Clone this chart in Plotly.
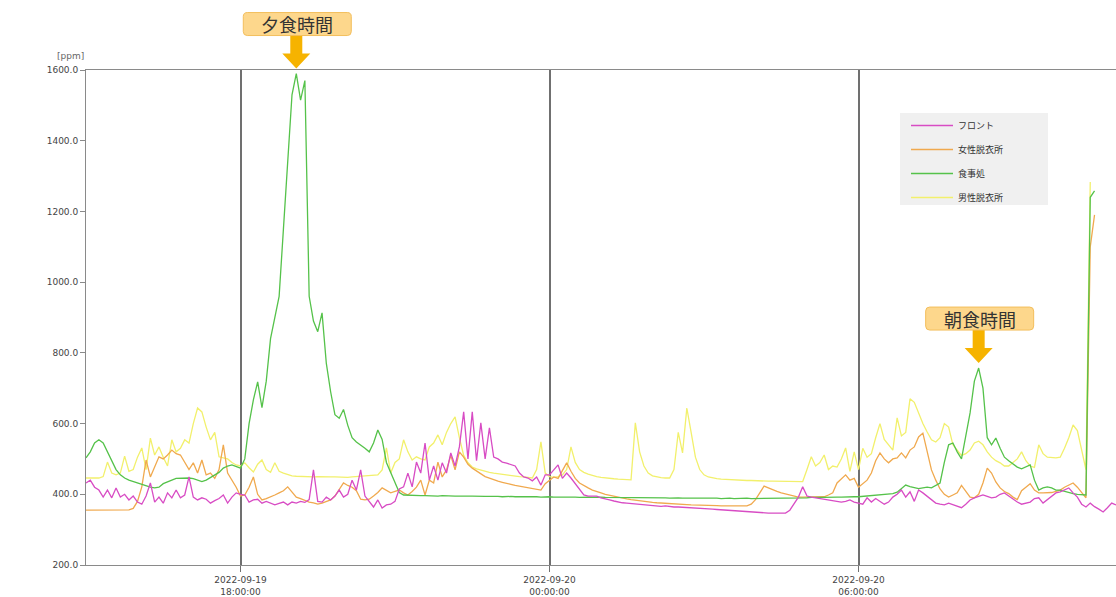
import pandas as pd
import plotly.graph_objects as go

# ---------------- data (5-minute readings, 2022-09-19 15:00 -> 2022-09-20 11:00) ----------------
times = pd.date_range("2022-09-19 15:00", "2022-09-20 11:00", freq="5min")

series_names = ["フロント", "女性脱衣所", "食事処", "男性脱衣所"]
series_colors = ["#d84cc4", "#f0a94e", "#55c24a", "#f2f06c"]

front = [
    432, 440, 420, 412, 392, 412, 390, 418, 392, 400, 384, 395,   # 15h
    378, 372, 395, 432, 378, 392, 375, 404, 390, 412, 390, 398,   # 16h
    449, 392, 384, 390, 386, 375, 382, 388, 398, 375, 392, 404,   # 17h
    400, 398, 378, 384, 386, 375, 380, 376, 370, 374, 378, 370,   # 18h
    378, 375, 380, 377, 385, 469, 380, 378, 392, 384, 395, 412,   # 19h
    392, 400, 440, 412, 469, 395, 380, 364, 384, 361, 370, 372,   # 20h
    380, 415, 421, 460, 421, 491, 460, 545, 440, 480, 440, 489,   # 21h
    460, 517, 480, 534, 633, 500, 633, 495, 602, 500, 588, 505,   # 22h
    500, 491, 488, 483, 480, 460, 449, 446, 438, 449, 426, 455,   # 23h
    455, 469, 483, 445, 460, 446, 430, 415, 398, 395, 394, 395,   # 00h
    390, 386, 384, 381, 378, 376, 375, 374, 372, 370, 370, 369,   # 01h
    368, 367, 366, 367, 365, 364, 364, 363, 362, 361, 361, 360,   # 02h
    359, 358, 358, 357, 356, 355, 355, 354, 353, 352, 351, 350,   # 03h
    349, 349, 348, 347, 347, 347, 346, 347, 355, 375, 392, 421,   # 04h
    395, 392, 390, 388, 386, 384, 384, 381, 378, 380, 384, 378,   # 05h
    375, 372, 390, 378, 388, 380, 372, 378, 392, 400, 412, 392,   # 06h
    407, 380, 412, 404, 395, 384, 375, 372, 370, 375, 370, 366,   # 07h
    362, 372, 384, 390, 395, 398, 394, 390, 392, 400, 404, 395,   # 08h
    386, 378, 372, 375, 378, 388, 390, 375, 384, 395, 404, 407,   # 09h
    412, 418, 404, 392, 372, 364, 375, 365, 358, 350, 362, 375,   # 10h
    370,
]

women = [
    355, 355, 355, 355, 355, 355, 355, 355, 356, 356, 356, 360,
    380, 421, 497, 449, 480, 506, 500, 511, 525, 515, 511, 490,
    470, 489, 460, 497, 455, 460, 445, 470, 540, 460, 440, 420,
    395, 398, 420, 449, 400, 384, 388, 392, 398, 404, 410, 421,
    405, 392, 388, 382, 378, 376, 372, 375, 380, 384, 395, 415,
    432, 425, 420, 410, 386, 384, 386, 395, 405, 418, 410, 404,
    408, 412, 404, 398, 408, 420, 440, 398, 440, 432, 491, 449,
    469, 510, 469, 520, 505, 485, 474, 466, 456, 450, 446, 441,
    437, 434, 430, 428, 425, 423, 420, 418, 416, 414, 412, 430,
    440, 449, 445, 465, 489, 465, 445, 432, 424, 418, 412, 407,
    404, 400, 397, 394, 391, 389, 387, 385, 383, 381, 380, 379,
    377, 376, 375, 374, 373, 372, 372, 371, 371, 370, 370, 369,
    369, 368, 368, 368, 367, 367, 367, 367, 366, 366, 367, 372,
    385, 404, 423, 418, 412, 408, 404, 401, 398, 395, 392, 392,
    392, 392, 391, 392, 393, 398, 404, 432, 445, 455, 440, 445,
    420, 430, 440, 460, 495, 517, 500, 489, 500, 503, 517, 503,
    525, 534, 562, 573, 517, 469, 440, 415, 400, 392, 398, 404,
    425, 410, 392, 390, 400, 432, 474, 460, 435, 418, 408, 402,
    392, 385, 410, 420, 430, 412, 404, 404, 404, 405, 408, 412,
    420, 426, 432, 420, 405, 390, 1100, 1190,
]

dining = [
    503, 520, 545, 554, 545, 520, 492, 470, 455, 446, 440, 436,
    430, 426, 423, 420, 418, 420, 430, 436, 440, 445, 446, 447,
    446, 444, 440, 436, 440, 448, 455, 462, 474, 480, 483, 478,
    474, 500, 600, 667, 718, 645, 720, 840, 900, 960, 1150, 1350,
    1530, 1590, 1515, 1570, 960, 890, 860, 913, 770, 690, 625, 615,
    640, 595, 560, 548, 540, 530, 520, 545, 582, 555, 490, 460,
    430, 405, 398, 397, 396, 397, 396, 396, 395, 396, 395, 396,
    395, 396, 395, 395, 394, 395, 395, 394, 395, 394, 394, 395,
    394, 393, 394, 394, 393, 394, 393, 393, 394, 393, 392, 393,
    393, 392, 393, 392, 392, 393, 392, 391, 392, 392, 391, 392,
    392, 391, 391, 392, 391, 391, 390, 391, 391, 390, 391, 390,
    390, 391, 390, 390, 389, 390, 390, 389, 390, 389, 389, 390,
    389, 389, 390, 389, 388, 389, 389, 388, 389, 388, 389, 388,
    388, 389, 388, 388, 389, 388, 389, 389, 390, 389, 390, 390,
    390, 391, 390, 391, 391, 392, 391, 392, 392, 393, 392, 393,
    393, 394, 394, 395, 396, 397, 398, 400, 402, 406, 415, 426,
    422, 418, 416, 418, 420, 418, 425, 432, 490, 540, 545, 520,
    500, 560, 630, 720, 757, 700, 560, 540, 559, 530, 505, 495,
    485, 477, 472, 478, 483, 440, 412, 418, 421, 418, 412, 412,
    408, 405, 402, 400, 399, 398, 1240, 1258,
]

men = [
    446, 446, 447, 446, 450, 491, 460, 455, 460, 508, 465, 470,
    505, 531, 470, 559, 511, 534, 505, 480, 554, 520, 530, 554,
    545, 600, 644, 633, 590, 554, 575, 506, 503, 500, 490, 483,
    480, 489, 475, 463, 485, 497, 470, 462, 489, 465, 460, 455,
    452, 451, 450, 450, 449, 449, 450, 449, 448, 449, 449, 448,
    449, 448, 449, 450, 449, 450, 451, 452, 455, 469, 531, 460,
    490, 500, 554, 520, 497, 506, 500, 497, 534, 545, 568, 540,
    575, 600, 619, 560, 510, 489, 477, 472, 468, 465, 462, 460,
    458, 456, 455, 453, 452, 450, 449, 447, 446, 470, 548, 460,
    450, 448, 450, 455, 470, 534, 490, 470, 462, 457, 453, 450,
    448, 446, 445, 444, 443, 442, 441, 441, 602, 520, 480, 460,
    452, 449, 447, 446, 446, 470, 575, 517, 644, 575, 505, 470,
    455, 449, 446, 444, 443, 442, 441, 441, 440, 440, 439, 439,
    438, 438, 438, 437, 437, 437, 437, 437, 436, 436, 436, 436,
    470, 506, 480, 490, 511, 470, 480, 477, 500, 531, 465, 520,
    470, 530, 505, 515, 560, 600, 555, 540, 525, 616, 565, 575,
    670, 660, 630, 600, 576, 554, 548, 560, 600, 590, 540, 525,
    510, 515, 525, 545, 550, 540, 520, 505, 495, 489, 480, 480,
    490, 500, 520, 495, 480, 476, 540, 515, 505, 503, 503, 505,
    530, 560, 596, 580, 520, 470, 1283,
]

y_ticks = [200, 400, 600, 800, 1000, 1200, 1400, 1600]
x_tick_times = ["2022-09-19 18:00:00", "2022-09-20 00:00:00", "2022-09-20 06:00:00"]
x_tick_text = ["2022-09-19<br>18:00:00", "2022-09-20<br>00:00:00", "2022-09-20<br>06:00:00"]
callout_texts = ["夕食時間", "朝食時間"]


def pad(vals):
    return list(vals) + [None] * (len(times) - len(vals))


data = [pad(front), pad(women), pad(dining), pad(men)]

# ---------------- figure ----------------
OFF = 0  # page body margin is removed by the post script
W, H = 1116 - OFF, 597 - OFF
ML, MR, MT, MB = 86 - OFF, 0, 70 - OFF, 32
PW, PH = W - ML - MR, H - MT - MB
Y0, Y1 = 200, 1600
t0, t1 = times[0], times[-1]

fig = go.Figure()
draw_order = [3, 1, 2, 0]  # yellow bottom, pink on top
for i in draw_order:
    fig.add_trace(go.Scatter(
        x=times, y=data[i], mode="lines", name=series_names[i],
        line=dict(color=series_colors[i], width=1.3),
        legendrank=i + 1, legendgroup=f"g{i}",
        connectgaps=False,
    ))


def xp(t):
    return (pd.Timestamp(t) - t0) / (t1 - t0)


def yp(v):
    return (v - Y0) / (Y1 - Y0)


shapes = []
annotations = []


def callout(t, v, text):
    tx = xp(t)
    ty = min(yp(v) + 5 / PH, 1 + 2 / PH)

    def X(dx):
        return tx + dx / PW

    def Y(dy):
        return ty + dy / PH

    arrow = (f"M {X(-6)},{Y(15)} L {X(-14)},{Y(15)} L {X(0)},{Y(0)} L {X(14)},{Y(15)} "
             f"L {X(6)},{Y(15)} L {X(6)},{Y(35)} L {X(-6)},{Y(35)} Z")
    shapes.append(dict(type="path", xref="paper", yref="paper", path=arrow,
                       fillcolor="#f6b300", line=dict(width=0), layer="above"))
    l, r, b, tp, rad = -53, 55, 33, 56, 4
    box = (f"M {X(l + rad)},{Y(b)} L {X(r - rad)},{Y(b)} Q {X(r)},{Y(b)} {X(r)},{Y(b + rad)} "
           f"L {X(r)},{Y(tp - rad)} Q {X(r)},{Y(tp)} {X(r - rad)},{Y(tp)} "
           f"L {X(l + rad)},{Y(tp)} Q {X(l)},{Y(tp)} {X(l)},{Y(tp - rad)} "
           f"L {X(l)},{Y(b + rad)} Q {X(l)},{Y(b)} {X(l + rad)},{Y(b)} Z")
    shapes.append(dict(type="path", xref="paper", yref="paper", path=box,
                       fillcolor="#fdd78c", line=dict(color="#f3be5c", width=1), layer="above"))
    annotations.append(dict(x=X(1), y=Y(44.5), xref="paper", yref="paper", text=text,
                            showarrow=False, xanchor="center", yanchor="middle",
                            font=dict(family="Noto Sans CJK JP", size=18, color="#333333")))


dser = pd.Series(dining, index=times[:len(dining)], dtype=float)
dinner_t = dser["2022-09-19 18:00":"2022-09-19 21:00"].idxmax()
breakfast_t = dser["2022-09-20 07:00":"2022-09-20 09:00"].idxmax()
callout(dinner_t, dser[dinner_t], callout_texts[0])
callout(breakfast_t, dser[breakfast_t], callout_texts[1])


# page-pixel -> paper helpers for the legend panel
def ppx(x):
    return (x - OFF - ML) / PW


def ppy(y):
    return (H - MB - (y - OFF)) / PH


shapes.append(dict(type="rect", xref="paper", yref="paper",
                   x0=ppx(900), x1=ppx(1048), y0=ppy(205), y1=ppy(113),
                   fillcolor="#f0f0f0", line=dict(width=0), layer="below"))

annotations.append(dict(x=0.0, y=ppy(63), xref="paper", yref="paper", text="[ppm]",
                        showarrow=False, xanchor="right", yanchor="bottom",
                        font=dict(family="DejaVu Sans", size=9, color="#666666")))

fig.update_layout(
    width=W, height=H,
    margin=dict(l=ML, r=MR, t=MT, b=MB, pad=0, autoexpand=False),
    paper_bgcolor="white", plot_bgcolor="white",
    showlegend=True,
    legend=dict(x=ppx(906), y=ppy(111), xanchor="left", yanchor="top",
                bgcolor="rgba(0,0,0,0)", borderwidth=0, tracegroupgap=5, itemwidth=42,
                traceorder="grouped",
                font=dict(family="Noto Sans CJK JP", size=9, color="#333333")),
    shapes=shapes,
    annotations=annotations,
    font=dict(family="DejaVu Sans", size=9, color="#444444"),
)

fig.update_xaxes(
    range=[t0, t1], type="date",
    tickvals=pd.to_datetime(x_tick_times), ticktext=x_tick_text,
    showgrid=True, gridcolor="#707070", gridwidth=1.5,
    showline=True, linecolor="#8a8a8a", linewidth=1, mirror=True,
    ticks="outside", ticklen=6, tickcolor="#707070",
    tickfont=dict(family="DejaVu Sans", size=9, color="#444444"),
    zeroline=False, automargin=False,
)
fig.update_yaxes(
    range=[Y0, Y1], tickvals=y_ticks, tickformat=".1f",
    showgrid=False, zeroline=False,
    showline=True, linecolor="#8a8a8a", linewidth=1,
    ticks="outside", ticklen=5, tickcolor="#8a8a8a",
    tickfont=dict(family="DejaVu Sans", size=9, color="#444444"),
    automargin=False,
)

# remove the default page margin and scrollbars so the figure fills the window exactly
fig.write_html(
    "out.html",
    config={"displayModeBar": False},
    post_script=("document.body.style.margin='0';"
                 "document.documentElement.style.overflow='hidden';"
                 "document.body.style.overflow='hidden';"),
)
